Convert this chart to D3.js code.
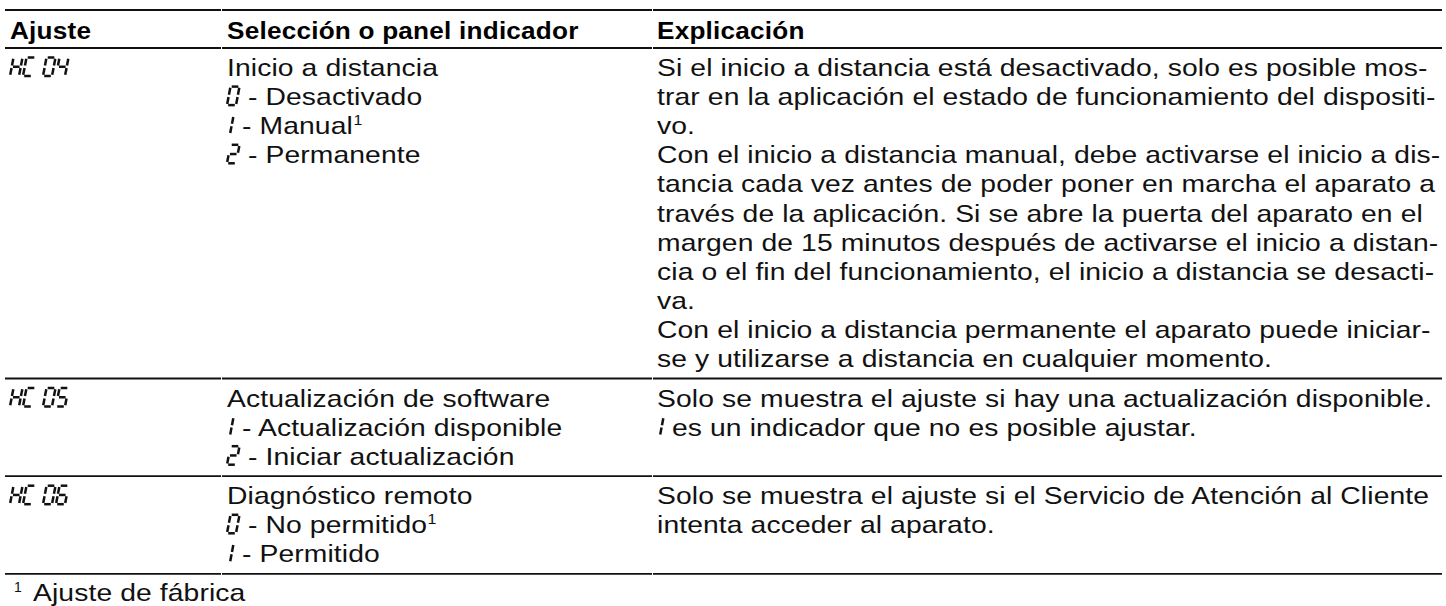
<!DOCTYPE html>
<html><head><meta charset="utf-8">
<script src="https://cdn.jsdelivr.net/npm/d3@7"></script>
<style>html,body{margin:0;padding:0;background:#fff;} svg{display:block;}</style>
</head><body><svg id="c" width="1446" height="606"></svg>
<script>
const headers = ["Ajuste", "Selección o panel indicador", "Explicación"];
const settings = ["HC 04", "HC 05", "HC 06"];
const selections = [
  ["Inicio a distancia", "[0] - Desactivado", "[1] - Manual^1", "[2] - Permanente"],
  ["Actualización de software", "[1] - Actualización disponible", "[2] - Iniciar actualización"],
  ["Diagnóstico remoto", "[0] - No permitido^1", "[1] - Permitido"]
];
const explanations = [
  ["Si el inicio a distancia está desactivado, solo es posible mos-",
   "trar en la aplicación el estado de funcionamiento del dispositi-",
   "vo.",
   "Con el inicio a distancia manual, debe activarse el inicio a dis-",
   "tancia cada vez antes de poder poner en marcha el aparato a",
   "través de la aplicación. Si se abre la puerta del aparato en el",
   "margen de 15 minutos después de activarse el inicio a distan-",
   "cia o el fin del funcionamiento, el inicio a distancia se desacti-",
   "va.",
   "Con el inicio a distancia permanente el aparato puede iniciar-",
   "se y utilizarse a distancia en cualquier momento."],
  ["Solo se muestra el ajuste si hay una actualización disponible.",
   "[1] es un indicador que no es posible ajustar."],
  ["Solo se muestra el ajuste si el Servicio de Atención al Cliente",
   "intenta acceder al aparato."]
];
const footnoteMark = "1";
const footnoteText = "Ajuste de fábrica";

const INK = "#111";
const FONT = "'Liberation Sans', Arial, Helvetica, sans-serif";
const FS = 24.8, SX = 1.14, LS = 0.1, PITCH = 29.1;
const svg = d3.select("#c");

const colX = d3.scaleOrdinal().domain([0, 1, 2]).range([10, 227, 657]);
const colEdges = [5, 221, 652, 1442];

function stretchedText(parent, x, y, opts) {
  return parent.append("text")
    .attr("transform", `translate(${x},${y}) scale(${opts.sx || SX},1)`)
    .attr("font-family", FONT).attr("font-size", opts.fs || FS)
    .attr("font-weight", opts.bold ? "bold" : null)
    .attr("letter-spacing", opts.ls != null ? opts.ls : LS)
    .attr("fill", opts.fill || INK).text(opts.text);
}

// 7-segment glyphs
const SEGS = {
  "H": "bcefg", "C": "adef", "0": "abcdef", "1": "bc", "2": "abdeg",
  "4": "bcfg", "5": "acdfg", "6": "acdefg"
};
function drawSeg(g, ch, x, base) {
  if (ch === " ") return 7;
  const w = 9, h = 18.5, s = 0.19, gp = 1.2;
  let ox = x;
  if (ch === "1") ox = x - w + 3;
  const m = h / 2;
  const defs = {
    a: [[gp, h], [w - gp, h]],
    b: [[w, h - gp], [w, m + gp]],
    c: [[w, m - gp], [w, gp]],
    d: [[gp, 0], [w - gp, 0]],
    e: [[0, m - gp], [0, gp]],
    f: [[0, h - gp], [0, m + gp]],
    g: [[gp, m], [w - gp, m]]
  };
  const P = ([u, v]) => [ox + u + s * v, base - v];
  (SEGS[ch] || "").split("").forEach(k => {
    const [p1, p2] = defs[k].map(P);
    g.append("line").attr("x1", p1[0]).attr("y1", p1[1]).attr("x2", p2[0]).attr("y2", p2[1])
      .attr("stroke", INK).attr("stroke-width", 2.5).attr("stroke-linecap", "butt");
  });
  return ch === "1" ? 7 : 13;
}
function drawSegString(g, str, x, base) {
  let cx = x;
  for (const ch of str) cx += drawSeg(g, ch, cx, base);
  return cx;
}
function drawLine(g, str, x, base) {
  const m = str.match(/^(?:\[(\d)\])?(.*?)(?:\^(\d))?$/);
  let cx = x;
  let txt = m[2];
  if (m[1] !== undefined) {
    cx = drawSegString(g, m[1], cx, base);
    if (txt.startsWith(" ")) { cx += 8; txt = txt.slice(1); }
  }
  const t = stretchedText(g, cx, base, { text: txt });
  if (m[3]) {
    t.append("tspan").attr("font-size", 14).attr("dy", -9).attr("dx", 0.5)
      .attr("letter-spacing", 0).text(m[3]);
  }
}

// horizontal rules
function rule(y, w) {
  for (let i = 0; i < 3; i++) {
    svg.append("line").attr("x1", colEdges[i] + (i ? 1 : 0)).attr("x2", colEdges[i + 1])
      .attr("y1", y).attr("y2", y).attr("stroke", INK).attr("stroke-width", w);
  }
}

// header
rule(10, 1.8);
headers.forEach((h, i) => {
  stretchedText(svg, colX(i), 39, { text: h, bold: true, sx: 1.055, ls: 0.2, fill: "#000" });
});
rule(48, 1.8);

// rows
let rowTop = 48;
settings.forEach((s, r) => {
  const n = Math.max(selections[r].length, explanations[r].length);
  const y = d3.scaleLinear().domain([0, 1]).range([rowTop + 28, rowTop + 28 + PITCH]);
  const g = svg.append("g");
  drawSegString(g, s, colX(0), y(0));
  selections[r].forEach((l, i) => drawLine(g, l, colX(1), y(i)));
  explanations[r].forEach((l, i) => drawLine(g, l, colX(2), y(i)));
  rowTop = y(n - 1) + 11.5;
  rule(rowTop, 1.8);
});

// footnote
const fy = rowTop + 27;
svg.append("text").attr("x", 14).attr("y", fy - 9).attr("font-family", FONT)
  .attr("font-size", 14).attr("fill", INK).text(footnoteMark);
stretchedText(svg, 33, fy, { text: footnoteText });
</script></body></html>
